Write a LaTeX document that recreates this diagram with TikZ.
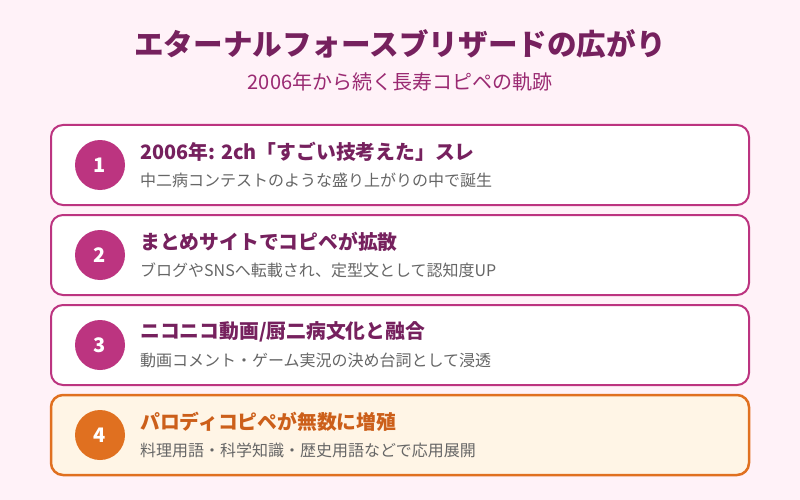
\documentclass[tikz,border=0pt]{standalone}
\usepackage{fontspec}
\setmainfont{Noto Sans CJK JP}
\definecolor{bgpink}{HTML}{FFF2F8}
\definecolor{mag}{HTML}{BC3480}
\definecolor{darkpur}{HTML}{76215E}
\definecolor{subpur}{HTML}{9A2A72}
\definecolor{graytxt}{HTML}{666666}
\definecolor{orng}{HTML}{E07020}
\definecolor{orngtxt}{HTML}{CC5F1A}
\definecolor{orngfill}{HTML}{FFF5E6}
\tikzset{
  card/.style={draw=mag, line width=2pt, fill=white, rounded corners=12pt},
  cardhi/.style={draw=orng, line width=2.5pt, fill=orngfill, rounded corners=12pt},
  badge/.style={circle, fill=mag, minimum size=50pt, inner sep=0pt, text=white, font=\bfseries\fontsize{20}{20}\selectfont},
  badgehi/.style={badge, fill=orng},
  head/.style={anchor=west, text=darkpur, font=\bfseries\fontsize{19.8}{22}\selectfont, inner sep=0pt},
  headhi/.style={head, text=orngtxt},
  desc/.style={anchor=west, text=graytxt, font=\fontsize{16}{18}\selectfont, inner sep=0pt},
}
\begin{document}
\begin{tikzpicture}[x=1pt,y=-1pt]
\fill[bgpink] (0,0) rectangle (800,500);
\useasboundingbox (0,0) rectangle (800,500);
\node[text=darkpur, font=\bfseries\fontsize{29.6}{32}\selectfont] (title) at (400,44) {エターナルフォースブリザードの広がり};
\node[text=subpur, font=\fontsize{20}{22}\selectfont] (subtitle) at (400,82) {2006年から続く長寿コピペの軌跡};
% card 1
\draw[card] (51,125) rectangle (749,205);
\node[badge] (b1) at (100,165) {1};
\node[head] (h1) at (140,152) {2006年: 2ch「すごい技考えた」スレ};
\node[desc] (d1) at (140,180) {中二病コンテストのような盛り上がりの中で誕生};
% card 2
\draw[card] (51,215) rectangle (749,295);
\node[badge] (b2) at (100,255) {2};
\node[head] (h2) at (140,242) {まとめサイトでコピペが拡散};
\node[desc] (d2) at (140,270) {ブログやSNSへ転載され、定型文として認知度UP};
% card 3
\draw[card] (51,305) rectangle (749,385);
\node[badge] (b3) at (100,345) {3};
\node[head] (h3) at (140,332) {ニコニコ動画/厨二病文化と融合};
\node[desc] (d3) at (140,360) {動画コメント・ゲーム実況の決め台詞として浸透};
% card 4
\draw[cardhi] (51,395) rectangle (749,475);
\node[badgehi] (b4) at (100,435) {4};
\node[headhi] (h4) at (140,422) {パロディコピペが無数に増殖};
\node[desc] (d4) at (140,450) {料理用語・科学知識・歴史用語などで応用展開};
\end{tikzpicture}
\end{document}
